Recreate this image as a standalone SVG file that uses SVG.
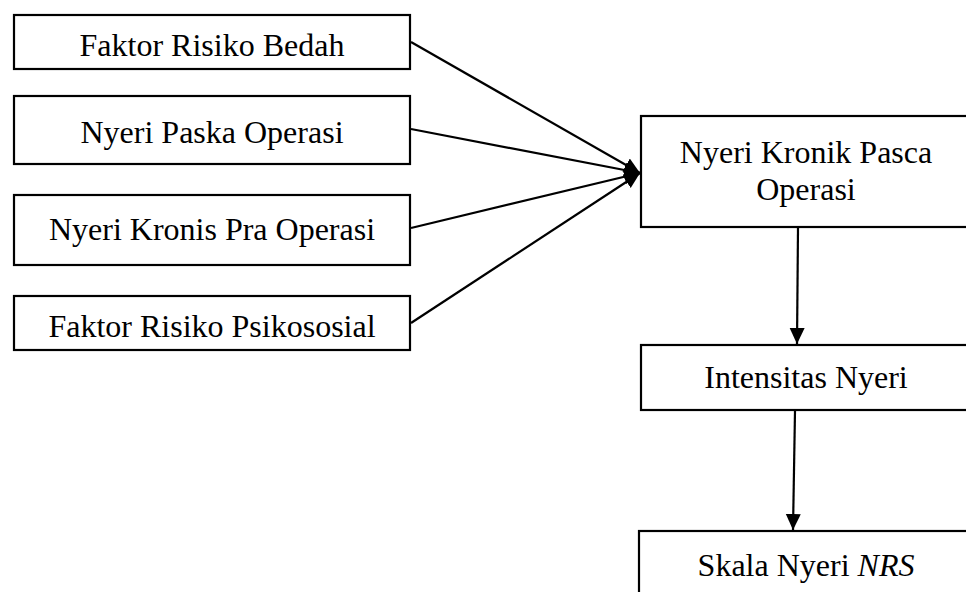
<svg xmlns="http://www.w3.org/2000/svg" width="966" height="592" viewBox="0 0 966 592">
<style>
.box{fill:#fff;stroke:#000;stroke-width:2.2}
.t{font-family:"Liberation Serif","Times New Roman",serif;font-size:32px;fill:#000;text-anchor:middle}
.c{stroke:#000;stroke-width:2.2;fill:none;marker-end:url(#ah)}
</style>
<defs>
<marker id="ah" markerUnits="userSpaceOnUse" markerWidth="18" markerHeight="16" refX="16" refY="7.5" orient="auto">
<path d="M0,0 L16,7.5 L0,15 z" fill="#000"/>
</marker>
</defs>
<rect width="966" height="592" fill="#fff"/>
<g id="n1"><rect class="box" x="14" y="15" width="396" height="54"/><text class="t" x="212" y="56">Faktor Risiko Bedah</text></g>
<g id="n2"><rect class="box" x="14" y="96" width="396" height="68"/><text class="t" x="212" y="143">Nyeri Paska Operasi</text></g>
<g id="n3"><rect class="box" x="14" y="195" width="396" height="70"/><text class="t" x="212" y="240">Nyeri Kronis Pra Operasi</text></g>
<g id="n4"><rect class="box" x="14" y="296" width="396" height="54"/><text class="t" x="212" y="337">Faktor Risiko Psikososial</text></g>
<g id="n5"><rect class="box" x="641" y="116" width="331" height="111"/><text class="t" x="806" y="163">Nyeri Kronik Pasca</text><text class="t" x="806" y="200">Operasi</text></g>
<g id="n6"><rect class="box" x="641" y="345" width="331" height="65"/><text class="t" x="806" y="388">Intensitas Nyeri</text></g>
<g id="n7"><rect class="box" x="639" y="531" width="333" height="70"/><text class="t" x="806" y="576">Skala Nyeri <tspan font-style="italic">NRS</tspan></text></g>
<g id="connectors">
<line class="c" x1="411" y1="42" x2="640" y2="173"/>
<line class="c" x1="411" y1="129" x2="640" y2="173"/>
<line class="c" x1="411" y1="228" x2="640" y2="173"/>
<line class="c" x1="411" y1="323" x2="640" y2="173"/>
<line class="c" x1="798" y1="228" x2="797" y2="344"/>
<line class="c" x1="795" y1="411" x2="793" y2="530"/>
</g>
</svg>
